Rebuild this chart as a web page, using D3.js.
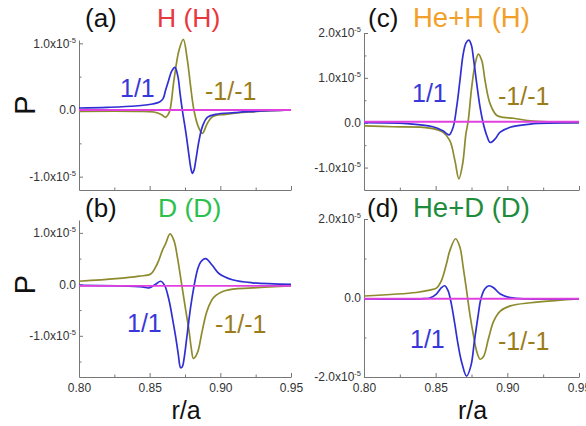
<!DOCTYPE html>
<html><head><meta charset="utf-8">
<script src="https://cdn.jsdelivr.net/npm/d3@7"></script>
<style>body{margin:0;background:#fff}svg{display:block}text{font-family:Arial,"Liberation Sans",sans-serif}</style>
</head><body><svg id="chart" width="586" height="426"></svg>
<script>
// ---- data (P values in units of 1e-5, r/a on x) ----
const xTicks = [0.80, 0.85, 0.90, 0.95];
const xMinorTicks = [0.825, 0.875, 0.925];
const xTickLabels = ["0.80", "0.85", "0.90", "0.95"];

const panelLetters = ["(a)", "(b)", "(c)", "(d)"];
const panelNames = ["H (H)", "D (D)", "He+H (H)", "He+D (D)"];
const seriesNames = ["1/1", "-1/-1"];

const yTicksA = [1, 0, -1], yLabelsA = ["1.0x10^-5", "0.0", "-1.0x10^-5"], yMinorA = [0.5, -0.5];
const yTicksB = [1, 0, -1], yLabelsB = ["1.0x10^-5", "0.0", "-1.0x10^-5"], yMinorB = [0.5, -0.5, -1.5];
const yTicksC = [2, 1, 0, -1], yLabelsC = ["2.0x10^-5", "1.0x10^-5", "0.0", "-1.0x10^-5"], yMinorC = [1.5, 0.5, -0.5];
const yTicksD = [2, 0, -2], yLabelsD = ["2.0x10^-5", "0.0", "-2.0x10^-5"], yMinorD = [1, -1];

const blueA = [[0.80,0.03],[0.82,0.04],[0.84,0.06],[0.852,0.09],[0.857,0.12],[0.8595,0.17],[0.8613,0.3],[0.8635,0.45],[0.8655,0.58],[0.8679,0.64],[0.8700,0.5],[0.8715,0.25],[0.8731,0.0],[0.8759,-0.38],[0.8778,-0.68],[0.8792,-0.88],[0.8802,-0.95],[0.8814,-0.9],[0.8826,-0.76],[0.885,-0.45],[0.8873,-0.25],[0.8908,-0.11],[0.8967,-0.065],[0.91,-0.04],[0.92,-0.025],[0.95,0]];
const oliveA = [[0.80,-0.02],[0.84,-0.02],[0.853,-0.03],[0.8585,-0.07],[0.8613,-0.11],[0.863,-0.07],[0.8644,0.0],[0.8672,0.45],[0.8708,0.9],[0.8738,1.06],[0.8766,0.76],[0.879,0.35],[0.8813,0.0],[0.8844,-0.25],[0.8873,-0.35],[0.8908,-0.2],[0.8944,-0.1],[0.9038,-0.065],[0.92,-0.03],[0.95,0]];
const zeroA = [[0.80,0],[0.95,0]];

const blueB = [[0.80,-0.02],[0.83,-0.03],[0.8448,-0.05],[0.8495,-0.07],[0.8542,0.0],[0.8578,0.06],[0.8606,-0.02],[0.8637,-0.31],[0.866,-0.64],[0.8684,-1.02],[0.8702,-1.35],[0.8719,-1.62],[0.8731,-1.6],[0.8743,-1.45],[0.8766,-0.96],[0.879,-0.44],[0.8813,-0.05],[0.8837,0.27],[0.886,0.43],[0.8896,0.5],[0.8943,0.37],[0.899,0.21],[0.9085,0.09],[0.9226,0.03],[0.95,0]];
const oliveB = [[0.80,0.06],[0.826,0.11],[0.8425,0.16],[0.8507,0.2],[0.8554,0.4],[0.859,0.66],[0.8613,0.79],[0.8644,0.98],[0.8672,0.85],[0.8696,0.53],[0.8726,0.01],[0.8755,-0.5],[0.8778,-0.89],[0.8795,-1.25],[0.8809,-1.44],[0.8825,-1.4],[0.8844,-1.28],[0.8873,-0.89],[0.8908,-0.5],[0.8955,-0.25],[0.9038,-0.12],[0.9226,-0.07],[0.95,-0.03]];
const zeroB = [[0.80,-0.03],[0.95,-0.03]];

const blueC = [[0.80,0],[0.83,-0.02],[0.848,-0.09],[0.855,-0.18],[0.8594,-0.27],[0.8622,-0.1],[0.8646,0.34],[0.8669,0.93],[0.8692,1.53],[0.8712,1.78],[0.8732,1.84],[0.875,1.72],[0.8763,1.45],[0.8787,0.86],[0.881,0.34],[0.8833,-0.03],[0.8857,-0.29],[0.888,-0.44],[0.8915,-0.36],[0.895,-0.21],[0.902,-0.1],[0.916,-0.03],[0.95,0]];
const oliveC = [[0.80,-0.07],[0.82,-0.09],[0.8458,-0.12],[0.855,-0.21],[0.8599,-0.4],[0.8634,-0.84],[0.8662,-1.25],[0.8688,-0.92],[0.8711,-0.25],[0.8727,0.04],[0.8751,0.78],[0.8775,1.3],[0.8798,1.53],[0.8822,1.38],[0.8845,0.93],[0.888,0.42],[0.8927,0.16],[0.8974,0.12],[0.9044,0.1],[0.916,0.04],[0.95,0]];
const zeroC = [[0.80,0.02],[0.95,0.02]];

const blueD = [[0.80,-0.02],[0.84,-0.02],[0.8458,0.0],[0.8505,0.1],[0.854,0.26],[0.8563,0.31],[0.8587,0.18],[0.861,-0.16],[0.8634,-0.67],[0.8657,-1.19],[0.8681,-1.62],[0.8716,-1.98],[0.8747,-1.7],[0.877,-1.1],[0.8794,-0.5],[0.8817,0.0],[0.8845,0.24],[0.8873,0.31],[0.8904,0.26],[0.8951,0.1],[0.9021,0.01],[0.95,-0.02]];
const oliveD = [[0.80,0.05],[0.8364,0.14],[0.8458,0.2],[0.8505,0.25],[0.854,0.44],[0.8575,0.86],[0.8599,1.2],[0.8639,1.5],[0.8669,1.29],[0.8692,0.78],[0.8716,0.18],[0.8739,-0.42],[0.8763,-0.93],[0.8787,-1.36],[0.881,-1.55],[0.8833,-1.49],[0.8869,-1.02],[0.8904,-0.59],[0.8951,-0.33],[0.9021,-0.2],[0.9162,-0.12],[0.935,-0.06],[0.95,-0.02]];
const zeroD = [[0.80,-0.02],[0.95,-0.02]];

// ---- layout / style ----
const titleColors = ["#e8383f", "#2cc04c", "#f2a02a", "#1f8c3c"];
const blueColor = "#2f2fd4", oliveColor = "#8d8b2e", magenta = "#e040e0";
const blueText = "#3838da", oliveText = "#9b7c1a";

const panels = [
  {x0:79, x1:291, yT:40, yB:190, dom:[-1.2,1.05], ticks:yTicksA, labels:yLabelsA, minor:yMinorA, blue:blueA, olive:oliveA, zero:zeroA, bottom:false,
   lab1:[120,97], lab2:[205,100], titleY:26.5, letterX:85, nameX:157},
  {x0:79, x1:291, yT:220, yB:377, dom:[-1.8,1.25], ticks:yTicksB, labels:yLabelsB, minor:yMinorB, blue:blueB, olive:oliveB, zero:zeroB, bottom:true,
   lab1:[127,332], lab2:[215,333], titleY:217, letterX:85, nameX:158},
  {x0:364, x1:579, yT:33, yB:190, dom:[-1.5,2.0], ticks:yTicksC, labels:yLabelsC, minor:yMinorC, blue:blueC, olive:oliveC, zero:zeroC, bottom:false,
   lab1:[412,102], lab2:[498,105], titleY:26.5, letterX:368, nameX:413},
  {x0:364, x1:579, yT:219, yB:377, dom:[-2,2], ticks:yTicksD, labels:yLabelsD, minor:yMinorD, blue:blueD, olive:oliveD, zero:zeroD, bottom:true,
   lab1:[410,348], lab2:[498,350], titleY:216.5, letterX:367, nameX:413}
];

const svg = d3.select("#chart");
const axisColor = "#777";

panels.forEach((p, i) => {
  const x = d3.scaleLinear().domain([0.80, 0.95]).range([p.x0, p.x1]);
  const y = d3.scaleLinear().domain(p.dom).range([p.yB, p.yT]);
  const g = svg.append("g");

  // x axis (ticks inward)
  const gx = g.append("g").attr("transform", `translate(0,${p.yB})`)
    .call(d3.axisBottom(x).tickValues(xTicks).tickSizeInner(-4).tickSizeOuter(0).tickPadding(6)
      .tickFormat((d, k) => p.bottom ? xTickLabels[k] : ""));
  gx.append("g").call(d3.axisBottom(x).tickValues(xMinorTicks).tickSizeInner(-2.5).tickSizeOuter(0).tickFormat(""))
    .select(".domain").remove();
  gx.selectAll("path,line").attr("stroke", axisColor);
  gx.selectAll("text").attr("font-size", 12).attr("fill", "#333").attr("font-family", "Arial, 'Liberation Sans', sans-serif");

  // y axis (ticks inward)
  const gy = g.append("g").attr("transform", `translate(${p.x0},0)`)
    .call(d3.axisLeft(y).tickValues(p.ticks).tickSizeInner(-4).tickSizeOuter(0).tickFormat(""));
  gy.append("g").call(d3.axisLeft(y).tickValues(p.minor).tickSizeInner(-2.5).tickSizeOuter(0).tickFormat(""))
    .select(".domain").remove();
  gy.selectAll("path,line").attr("stroke", axisColor);

  p.ticks.forEach((v, k) => {
    const parts = p.labels[k].split("^");
    const t = g.append("text").attr("x", p.x0 - 3).attr("y", y(v)).attr("dy", "0.36em")
      .attr("text-anchor", "end").attr("font-size", 12).attr("fill", "#333");
    t.append("tspan").text(parts[0]);
    if (parts[1]) t.append("tspan").attr("font-size", 7.5).attr("dy", -5).text(parts[1]);
  });

  // curves
  const line = d3.line().x(d => x(d[0])).y(d => y(d[1])).curve(d3.curveCatmullRom.alpha(0.5));
  g.append("path").datum(p.olive).attr("d", line).attr("fill", "none").attr("stroke", oliveColor).attr("stroke-width", 1.7);
  g.append("path").datum(p.blue).attr("d", line).attr("fill", "none").attr("stroke", blueColor).attr("stroke-width", 1.7);
  g.append("path").datum(p.zero).attr("d", line).attr("fill", "none").attr("stroke", magenta).attr("stroke-width", 1.9);

  // titles
  g.append("text").attr("x", p.letterX).attr("y", p.titleY).attr("font-size", 26).attr("fill", "#111").text(panelLetters[i]);
  g.append("text").attr("x", p.nameX).attr("y", p.titleY).attr("font-size", i >= 2 ? 27.5 : 26.5).attr("fill", titleColors[i]).text(panelNames[i]);

  // series labels
  g.append("text").attr("x", p.lab1[0]).attr("y", p.lab1[1]).attr("font-size", 25).attr("fill", blueText).text(seriesNames[0]);
  g.append("text").attr("x", p.lab2[0]).attr("y", p.lab2[1]).attr("font-size", 25).attr("fill", oliveText).text(seriesNames[1]);

  // axis titles
  if (p.x0 < 200) {
    g.append("text").attr("transform", `translate(35,${(p.yT + p.yB) / 2 - (i === 0 ? 10 : 14)}) rotate(-90)`)
      .attr("text-anchor", "middle").attr("font-size", 29).attr("fill", "#111").text("P");
  }
  if (p.bottom) {
    g.append("text").attr("x", (p.x0 + p.x1) / 2 + 1).attr("y", 419).attr("text-anchor", "middle")
      .attr("font-size", 25).attr("fill", "#111").text("r/a");
  }
});
</script>
</body></html>
